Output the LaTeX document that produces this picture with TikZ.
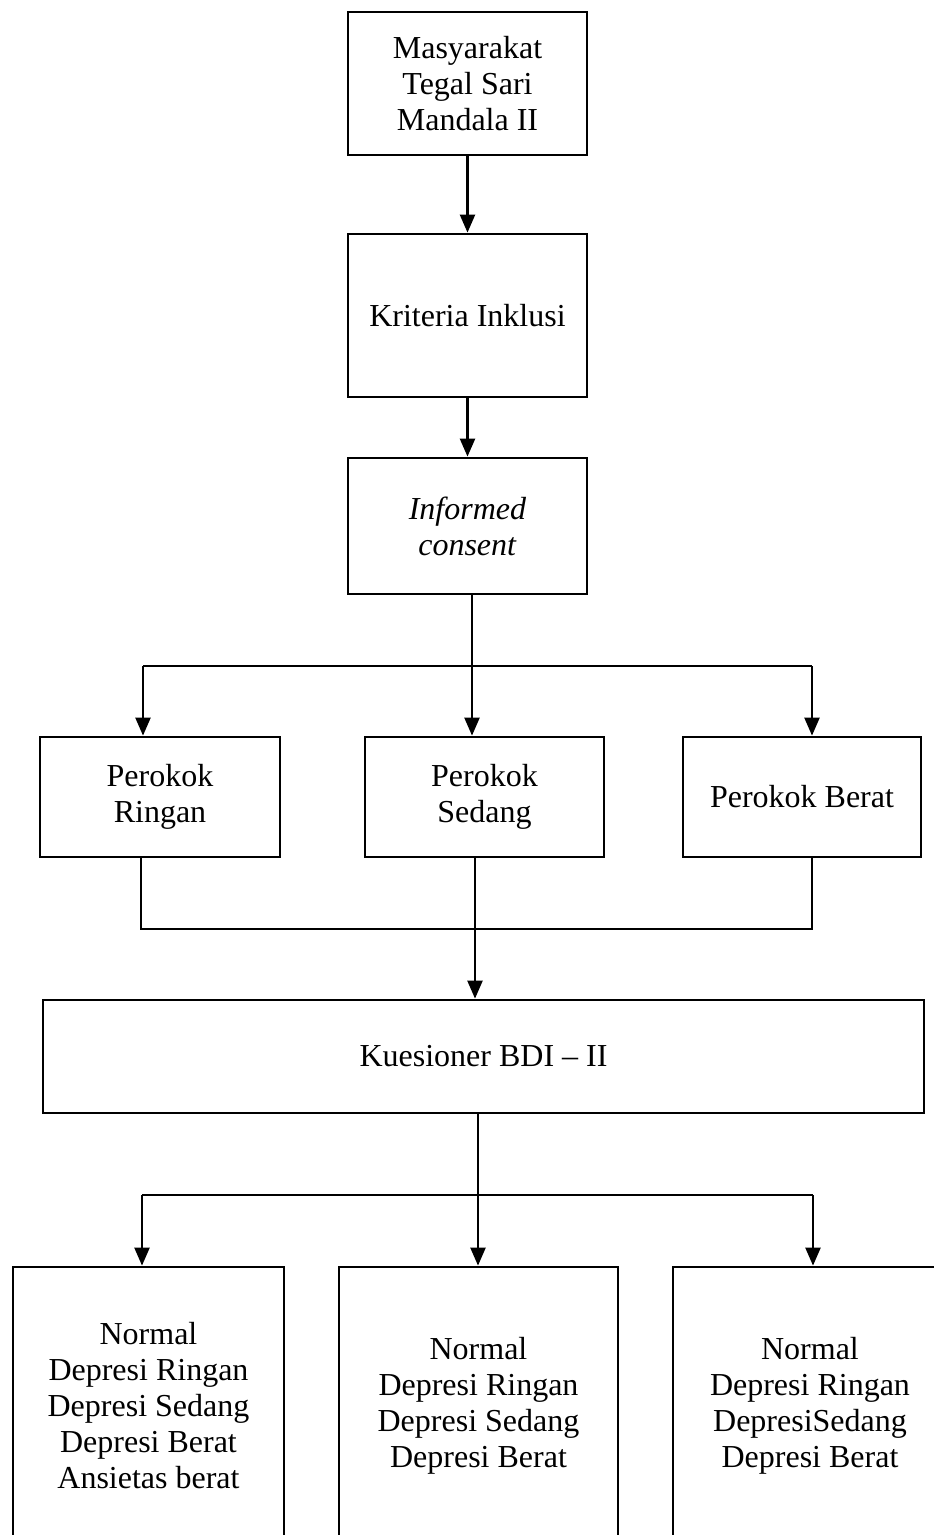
\documentclass[tikz,border=0pt]{standalone}
\usepackage{fontspec}
\setmainfont{Liberation Serif}
\usetikzlibrary{arrows.meta}
\begin{document}
\begin{tikzpicture}[x=1pt,y=-1pt,
 box/.style={draw,line width=2.8pt,align=center,inner sep=0pt,font=\fontsize{32}{36}\selectfont},
 arr/.style={line width=2.3pt,-{Triangle[width=15pt,length=18pt]}},
 thinline/.style={line width=1.3pt}]
\clip (0,0) rectangle (934,1535);
\fill[white] (0,0) rectangle (934,1535);
\node[box,minimum width=239pt,minimum height=143pt] (m) at (467.5,83.5) {Masyarakat\\Tegal Sari\\Mandala II};
\node[box,minimum width=239pt,minimum height=163pt] (k) at (467.5,315.5) {Kriteria Inklusi};
\node[box,minimum width=239pt,minimum height=136pt] (ic) at (467.5,526) {\textit{Informed}\\\textit{consent}};
\node[box,minimum width=240pt,minimum height=120pt] (ring) at (160,797) {Perokok\\Ringan};
\node[box,minimum width=239pt,minimum height=120pt] (sed) at (484.5,797) {Perokok\\Sedang};
\node[box,minimum width=238pt,minimum height=120pt] (ber) at (802,797) {Perokok Berat};
\node[box,minimum width=881pt,minimum height=113pt] (kues) at (483.5,1056.5) {Kuesioner BDI -- II};
\node[box,minimum width=271pt,minimum height=278pt] (o1) at (148.5,1406) {Normal\\Depresi Ringan\\Depresi Sedang\\Depresi Berat\\Ansietas berat};
\node[box,minimum width=279pt,minimum height=278pt] (o2) at (478.5,1406) {Normal\\Depresi Ringan\\Depresi Sedang\\Depresi Berat};
\node[box,minimum width=274pt,minimum height=278pt] (o3) at (810,1406) {Normal\\Depresi Ringan\\DepresiSedang\\Depresi Berat};
% connectors
\draw[arr] (m.south) -- (k.north);
\draw[arr] (k.south) -- (ic.north);
\coordinate (l1) at (143,666);
\coordinate (s1) at (472,666);
\coordinate (r1) at (812,666);
\draw[thinline] (ic.south -| s1) -- (s1);
\draw[thinline] (l1) -- (r1);
\draw[arr] (l1) -- (l1 |- ring.north);
\draw[arr] (s1) -- (s1 |- sed.north);
\draw[arr] (r1) -- (r1 |- ber.north);
\coordinate (j1) at (141,929);
\coordinate (j2) at (475,929);
\coordinate (j3) at (812,929);
\draw[thinline] (ring.south -| j1) -- (j1) -- (j3) -- (ber.south -| j3);
\draw[thinline] (sed.south -| j2) -- (j2);
\draw[arr] (j2) -- (j2 |- kues.north);
\coordinate (c1) at (142,1195);
\coordinate (c2) at (478,1195);
\coordinate (c3) at (813,1195);
\draw[thinline] (kues.south -| c2) -- (c2);
\draw[thinline] (c1) -- (c3);
\draw[arr] (c1) -- (c1 |- o1.north);
\draw[arr] (c2) -- (c2 |- o2.north);
\draw[arr] (c3) -- (c3 |- o3.north);
\end{tikzpicture}
\end{document}
